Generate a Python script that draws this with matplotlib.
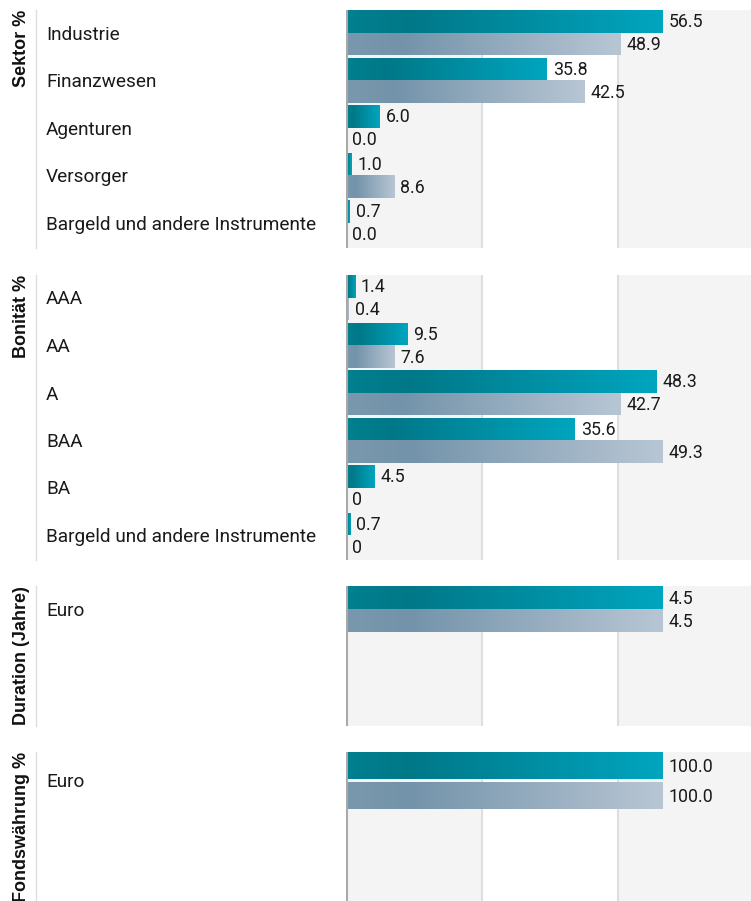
import numpy as np
import matplotlib
matplotlib.use("Agg")
import matplotlib.pyplot as plt
import matplotlib.transforms as mtransforms
from matplotlib.colors import LinearSegmentedColormap
from matplotlib.patches import Rectangle
from matplotlib.lines import Line2D

# ---------------- data ----------------
sektor_title = "Sektor %"
sektor_cats = ["Industrie", "Finanzwesen", "Agenturen", "Versorger",
               "Bargeld und andere Instrumente"]
sektor_fund = [56.5, 35.8, 6.0, 1.0, 0.7]
sektor_bench = [48.9, 42.5, 0.0, 8.6, 0.0]

bonitaet_title = "Bonität %"
bonitaet_cats = ["AAA", "AA", "A", "BAA", "BA", "Bargeld und andere Instrumente"]
bonitaet_fund = [1.4, 9.5, 48.3, 35.6, 4.5, 0.7]
bonitaet_bench = [0.4, 7.6, 42.7, 49.3, 0.0, 0.0]

duration_title = "Duration (Jahre)"
duration_cats = ["Euro"]
duration_fund = [4.5]
duration_bench = [4.5]

waehrung_title = "Fondswährung %"
waehrung_cats = ["Euro"]
waehrung_fund = [100.0]
waehrung_bench = [100.0]

# ---------------- layout (pixels) ----------------
W, H = 751, 901
AX_L, AX_W = 346, 408
MAXFRAC = (663 - 346) / 408.0
LABEL_X = 46
TITLE_X = 21.5
SEP_X = 36

panels = [
    # title, cats, fund, bench, top, height, slot, bar, gap, zero text
    (sektor_title, sektor_cats, sektor_fund, sektor_bench, 10, 238, 47.5, 22.7, 0, "0.0"),
    (bonitaet_title, bonitaet_cats, bonitaet_fund, bonitaet_bench, 275, 285, 47.5, 22.7, 0, "0"),
    (duration_title, duration_cats, duration_fund, duration_bench, 586, 140, 47.5, 23, 0, "0.0"),
    (waehrung_title, waehrung_cats, waehrung_fund, waehrung_bench, 752, 149, 60, 27, 3, "0.0"),
]

teal_cmap = LinearSegmentedColormap.from_list(
    "teal", [(0.0, "#00808f"), (0.2, "#007888"), (1.0, "#00a5bf")])
gray_cmap = LinearSegmentedColormap.from_list(
    "grayblue", [(0.0, "#7a98ad"), (0.2, "#7393aa"), (1.0, "#b8c6d4")])
grad = np.linspace(0, 1, 256).reshape(1, -1)

TEXT_COLOR = "#1a1a1a"
BAND = "#f4f4f4"
GRID = "#dedede"

fig = plt.figure(figsize=(W / 100, H / 100), dpi=100)


def fmt(v, zero_text):
    if v == 0:
        return zero_text
    return f"{v:.1f}"


def draw_bars(ax, ys, vals, height, cmap, zero_text):
    bars = ax.barh(ys, vals, height=height, color="none", edgecolor="none", zorder=2)
    for rect, v, y in zip(bars, vals, ys):
        if v > 0:
            x0, w = rect.get_x(), rect.get_width()
            yb, hh = rect.get_y(), rect.get_height()
            im = ax.imshow(grad, cmap=cmap, aspect="auto", interpolation="bilinear",
                           extent=[x0, x0 + w, yb + hh, yb], zorder=2)
            im.set_clip_path(rect)
        ax.annotate(fmt(v, zero_text), xy=(v, y), xytext=(4.3, -0.8),
                    textcoords="offset points", ha="left", va="center",
                    fontsize=12.8, family=["Roboto", "DejaVu Sans"], color=TEXT_COLOR,
                    zorder=6)


for title, cats, fund, bench, top, h, slot, bar, gap, zero_text in panels:
    ax = fig.add_axes([AX_L / W, 1 - (top + h) / H, AX_W / W, h / H])
    vmax = max(max(fund), max(bench))
    xmax = vmax / MAXFRAC
    ax.axis("off")

    # background bands and grid
    ax.add_patch(Rectangle((0, 0), 1 / 3, 1, transform=ax.transAxes,
                           facecolor=BAND, edgecolor="none", zorder=0))
    ax.add_patch(Rectangle((2 / 3, 0), 1 / 3, 1, transform=ax.transAxes,
                           facecolor=BAND, edgecolor="none", zorder=0))
    for f in (1 / 3, 2 / 3):
        ax.plot([f, f], [0, 1], transform=ax.transAxes, color=GRID, lw=1.5, zorder=1)
    ax.plot([0, 0], [0, 1], transform=ax.transAxes, color="#a9a9a9", lw=2.2, zorder=5)

    idx = np.arange(len(cats))
    y1 = idx * slot + bar / 2
    y2 = idx * slot + bar + gap + bar / 2
    draw_bars(ax, y1, fund, bar, teal_cmap, zero_text)
    draw_bars(ax, y2, bench, bar, gray_cmap, zero_text)

    ax.set_xlim(0, xmax)
    ax.set_ylim(h, 0)

    # category labels
    trans = mtransforms.blended_transform_factory(fig.transFigure, ax.transData)
    for i, c in enumerate(cats):
        ax.text(LABEL_X / W, i * slot + bar + gap / 2 + 1.8, c, transform=trans,
                ha="left", va="center", fontsize=13.7,
                family=["Roboto", "DejaVu Sans"], color=TEXT_COLOR)

    # panel title and separator
    fig.text(TITLE_X / W, 1 - top / H, title, rotation=90, ha="center", va="top",
             fontsize=13, fontweight="bold", family=["Liberation Sans", "DejaVu Sans"],
             color="#111111")
    fig.add_artist(Line2D([SEP_X / W, SEP_X / W], [1 - top / H, 1 - (top + h) / H],
                          transform=fig.transFigure, color="#dddddd", lw=1))

fig.savefig("out.png", dpi=100)
